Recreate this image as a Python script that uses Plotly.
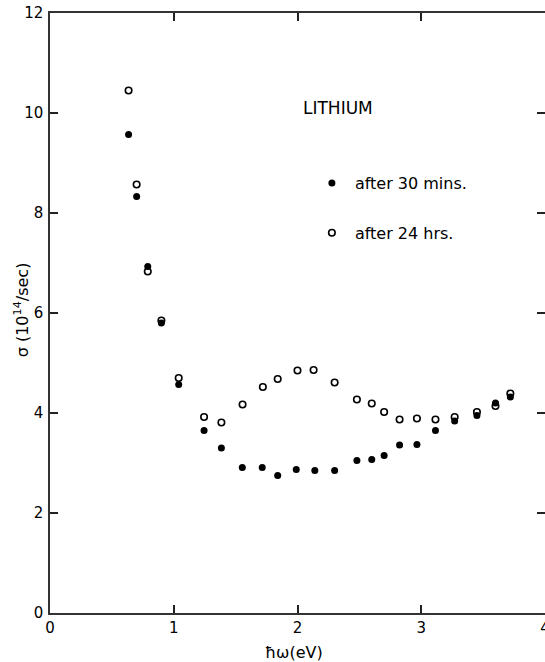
import plotly.graph_objects as go

# ---- data ----
x_30min = [0.635, 0.70, 0.79, 0.90, 1.04, 1.245, 1.385, 1.554, 1.715, 1.84, 1.99, 2.14,
           2.30, 2.48, 2.60, 2.70, 2.825, 2.965, 3.115, 3.27, 3.45, 3.60, 3.72]
y_30min = [9.57, 8.33, 6.93, 5.80, 4.57, 3.65, 3.30, 2.91, 2.91, 2.75, 2.87, 2.85,
           2.85, 3.05, 3.07, 3.15, 3.36, 3.37, 3.65, 3.84, 3.95, 4.20, 4.32]

x_24hrs = [0.635, 0.70, 0.79, 0.90, 1.04, 1.245, 1.385, 1.556, 1.72, 1.84, 2.00, 2.13,
           2.30, 2.48, 2.60, 2.70, 2.825, 2.965, 3.115, 3.27, 3.45, 3.60, 3.72]
y_24hrs = [10.45, 8.57, 6.83, 5.85, 4.70, 3.92, 3.81, 4.17, 4.52, 4.68, 4.85, 4.86,
           4.61, 4.27, 4.19, 4.02, 3.87, 3.89, 3.87, 3.92, 4.02, 4.14, 4.39]

series_names = ["after 30 mins.", "after 24 hrs."]
x_ticks = [0, 1, 2, 3, 4]
y_ticks = [0, 2, 4, 6, 8, 10, 12]
panel_label = "LITHIUM"
x_title = "ħω(eV)"
y_title = "σ (10<sup>14</sup>/sec)"

FONT = "DejaVu Sans"
INK = "#000000"

fig = go.Figure()
fig.add_trace(go.Scatter(
    x=x_24hrs, y=y_24hrs, mode="markers", name=series_names[1],
    legendgroup="b", legendrank=2,
    marker=dict(symbol="circle-open", size=6.5, color=INK, line=dict(width=1.6, color=INK)),
))
fig.add_trace(go.Scatter(
    x=x_30min, y=y_30min, mode="markers", name=series_names[0],
    legendgroup="a", legendrank=1,
    marker=dict(symbol="circle", size=7, color=INK),
))

axis_common = dict(
    showline=True, linecolor="#333333", linewidth=1.5,
    ticks="inside", ticklen=8, tickwidth=1.5, tickcolor="#222222",
    mirror="ticks", showgrid=False, zeroline=False,
    ticklabeloverflow="allow",
    tickfont=dict(family=FONT, size=15, color=INK),
)

fig.update_layout(
    width=545, height=662,
    margin=dict(l=50, r=0, t=13, b=49, autoexpand=False),
    paper_bgcolor="white", plot_bgcolor="white",
    font=dict(family=FONT, color=INK),
    xaxis=dict(range=[0, 4], tickvals=x_ticks, **axis_common),
    yaxis=dict(range=[0, 12], tickvals=y_ticks, ticklabelstandoff=2, **axis_common),
    legend=dict(
        x=0.523, y=0.745, xanchor="left", yanchor="top",
        traceorder="grouped", tracegroupgap=26, itemwidth=36,
        bgcolor="rgba(0,0,0,0)", borderwidth=0,
        font=dict(family=FONT, size=16, color=INK),
    ),
    annotations=[
        dict(x=2.33, y=10.1, xref="x", yref="y", text=panel_label, showarrow=False,
             font=dict(family=FONT, size=17, color=INK)),
        dict(x=0.492, y=-0.066, xref="paper", yref="paper", text=x_title, showarrow=False,
             xanchor="center", yanchor="middle",
             font=dict(family=FONT, size=16, color=INK)),
        dict(x=-0.058, y=0.505, xref="paper", yref="paper", text=y_title, showarrow=False,
             textangle=-90, xanchor="center", yanchor="middle",
             font=dict(family=FONT, size=16, color=INK)),
    ],
)

fig.write_html(
    "out.html",
    config={"displayModeBar": False},
    post_script="document.body.style.margin='0';document.body.style.overflow='hidden';",
)
